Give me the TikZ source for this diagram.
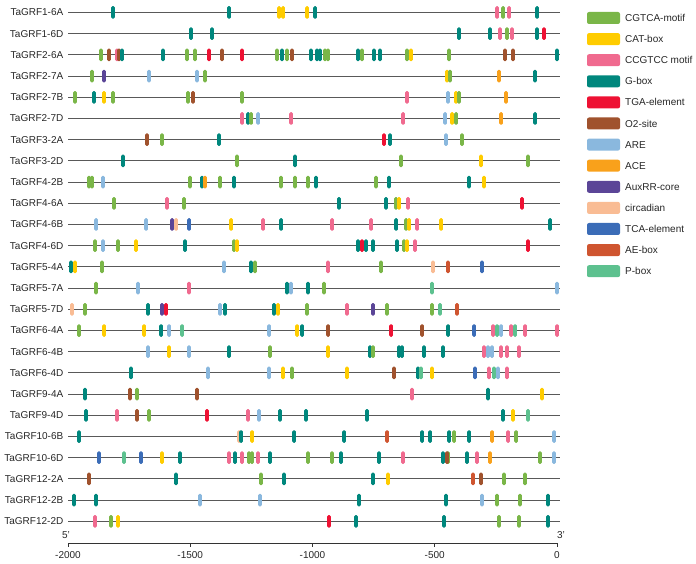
\documentclass[tikz,border=0pt]{standalone}
\usepackage{fontspec}
\setmainfont{Liberation Sans}
\definecolor{cgtca}{RGB}{122,182,72}
\definecolor{cat}{RGB}{255,204,0}
\definecolor{ccgtcc}{RGB}{240,106,143}
\definecolor{gbox}{RGB}{0,135,125}
\definecolor{tga}{RGB}{238,17,51}
\definecolor{otwo}{RGB}{160,82,45}
\definecolor{are}{RGB}{138,184,222}
\definecolor{ace}{RGB}{249,161,27}
\definecolor{auxrr}{RGB}{91,69,151}
\definecolor{circ}{RGB}{249,188,148}
\definecolor{tca}{RGB}{59,108,183}
\definecolor{aebox}{RGB}{207,85,48}
\definecolor{pbox}{RGB}{93,193,143}
\tikzset{
  elem/.style     = {rectangle, rounded corners=1.4pt, draw=none, inner sep=0pt,
                     minimum width=3.8pt, minimum height=12.5pt},
  key/.style      = {rectangle, rounded corners=2pt, draw=none, inner sep=0pt,
                     minimum width=33pt, minimum height=12pt},
  genename/.style = {anchor=east, inner sep=0pt, text=black!85,
                     font=\fontsize{10}{12}\selectfont},
  keytext/.style  = {anchor=west, inner sep=0pt, text=black!85,
                     font=\fontsize{10}{12}\selectfont},
  track/.style    = {draw=black!65, line width=1.1pt},
  axisline/.style = {draw=black!80, line width=0.9pt},
}
% one promoter: row number, gene name, list of position/element
\newcommand\generow[3]{%
  \pgfmathsetmacro\rowy{12.5+21.2*#1}
  \node[genename] (g#1) at (63.5,\rowy) {#2};
  \coordinate (s#1) at (68,\rowy);
  \coordinate (e#1) at (560,\rowy);
  \draw[track] (s#1) -- (e#1);
  \foreach \px/\pc [count=\k] in {#3} {\node[elem, fill=\pc] (m#1-\k) at (\px,\rowy) {};}
}

\begin{document}
\begin{tikzpicture}[x=1pt,y=-1pt]
  \useasboundingbox (0,0) rectangle (696,564);

  \generow{0}{TaGRF1-6A}{113/gbox, 229/gbox, 279/cat, 283/cat, 307/cat, 315/gbox, 497/ccgtcc, 503/cgtca, 509/ccgtcc, 537/gbox}
  \generow{1}{TaGRF1-6D}{191/gbox, 212/gbox, 459/gbox, 490/gbox, 500/ccgtcc, 507/cgtca, 512/ccgtcc, 537/gbox, 544/tga}
  \generow{2}{TaGRF2-6A}{101/cgtca, 109/otwo, 117/ccgtcc, 119/otwo, 122/gbox, 163/gbox, 187/cgtca, 195/cgtca, 209/tga, 222/otwo, 242/tga,
    277/cgtca, 282/gbox, 287/cgtca, 292/otwo, 311/gbox, 317/gbox, 320/gbox, 325/cgtca, 328/cgtca, 358/gbox, 362/cgtca, 374/gbox, 380/gbox,
    407/cgtca, 411/cat, 449/cgtca, 505/otwo, 513/otwo, 557/gbox}
  \generow{3}{TaGRF2-7A}{92/cgtca, 104/auxrr, 149/are, 197/are, 205/cgtca, 447/cat, 450/cgtca, 499/ace, 535/gbox}
  \generow{4}{TaGRF2-7B}{75/cgtca, 94/gbox, 104/cat, 113/cgtca, 188/cgtca, 193/otwo, 242/cgtca, 407/ccgtcc, 448/are, 456/cat, 459/cgtca, 506/ace}
  \generow{5}{TaGRF2-7D}{242/ccgtcc, 248/gbox, 251/cgtca, 258/are, 291/ccgtcc, 403/ccgtcc, 445/are, 452/cat, 456/cgtca, 501/ace, 535/gbox}
  \generow{6}{TaGRF3-2A}{147/otwo, 162/cgtca, 219/gbox, 384/tga, 390/gbox, 446/are, 462/cgtca}
  \generow{7}{TaGRF3-2D}{123/gbox, 237/cgtca, 295/gbox, 401/cgtca, 481/cat, 528/cgtca}
  \generow{8}{TaGRF4-2B}{89/cgtca, 92/cgtca, 103/are, 190/cgtca, 202/gbox, 205/ace, 220/cgtca, 234/gbox, 281/cgtca, 295/cgtca, 308/cgtca,
    316/gbox, 376/cgtca, 389/gbox, 469/gbox, 484/cat}
  \generow{9}{TaGRF4-6A}{114/cgtca, 167/ccgtcc, 184/cgtca, 339/gbox, 386/gbox, 396/cgtca, 399/cat, 408/ccgtcc, 522/tga}
  \generow{10}{TaGRF4-6B}{96/are, 146/are, 172/auxrr, 176/circ, 189/tca, 231/cat, 263/ccgtcc, 281/gbox, 332/ccgtcc, 371/ccgtcc, 396/gbox,
    406/cgtca, 409/cat, 417/ccgtcc, 441/cat, 550/gbox}
  \generow{11}{TaGRF4-6D}{95/cgtca, 103/are, 118/cgtca, 136/cat, 185/gbox, 234/cgtca, 237/cat, 358/gbox, 362/tga, 366/gbox, 373/gbox,
    397/gbox, 404/cgtca, 407/cat, 415/ccgtcc, 528/tga}
  \generow{12}{TaGRF5-4A}{71/gbox, 75/cat, 102/cgtca, 224/are, 251/gbox, 255/cgtca, 328/ccgtcc, 381/cgtca, 433/circ, 448/aebox, 482/tca}
  \generow{13}{TaGRF5-7A}{96/cgtca, 138/are, 189/ccgtcc, 287/gbox, 291/are, 308/gbox, 324/cgtca, 432/pbox, 557/are}
  \generow{14}{TaGRF5-7D}{72/circ, 85/cgtca, 148/gbox, 162/auxrr, 166/tga, 220/are, 225/gbox, 274/gbox, 278/cat, 307/cgtca, 347/ccgtcc,
    373/auxrr, 387/cgtca, 432/cgtca, 440/pbox, 457/aebox}
  \generow{15}{TaGRF6-4A}{79/cgtca, 104/cat, 144/cat, 161/gbox, 169/are, 182/pbox, 269/are, 297/cat, 302/gbox, 328/otwo, 391/tga, 422/otwo,
    448/gbox, 474/tca, 493/ccgtcc, 497/pbox, 501/are, 511/ccgtcc, 515/pbox, 525/ccgtcc, 557/ccgtcc}
  \generow{16}{TaGRF6-4B}{148/are, 169/cat, 189/are, 229/gbox, 270/cgtca, 328/cat, 370/gbox, 373/cgtca, 399/gbox, 402/gbox, 424/gbox,
    443/gbox, 484/ccgtcc, 488/are, 492/are, 501/ccgtcc, 507/ccgtcc, 519/ccgtcc}
  \generow{17}{TaGRF6-4D}{131/gbox, 208/are, 269/are, 283/cat, 292/cgtca, 347/cat, 394/otwo, 418/gbox, 421/pbox, 432/cat, 475/tca,
    489/ccgtcc, 494/pbox, 498/are, 507/ccgtcc}
  \generow{18}{TaGRF9-4A}{85/gbox, 130/otwo, 137/cgtca, 197/otwo, 412/ccgtcc, 488/gbox, 542/cat}
  \generow{19}{TaGRF9-4D}{86/gbox, 117/ccgtcc, 137/otwo, 149/cgtca, 207/tga, 248/ccgtcc, 259/are, 280/gbox, 306/gbox, 367/gbox, 503/gbox,
    513/cat, 528/pbox}
  \generow{20}{TaGRF10-6B}{79/gbox, 239/circ, 241/gbox, 252/cat, 294/gbox, 344/gbox, 387/aebox, 422/gbox, 430/gbox, 449/gbox, 454/cgtca,
    469/gbox, 492/ace, 508/ccgtcc, 516/cgtca, 554/are}
  \generow{21}{TaGRF10-6D}{99/tca, 124/pbox, 141/tca, 162/cat, 180/gbox, 229/ccgtcc, 235/gbox, 242/ccgtcc, 249/cgtca, 252/cgtca, 258/ccgtcc,
    270/gbox, 308/cgtca, 332/cgtca, 341/gbox, 379/gbox, 403/ccgtcc, 443/gbox, 448/cgtca, 447/otwo, 467/gbox, 477/ccgtcc, 490/ace,
    540/cgtca, 554/are}
  \generow{22}{TaGRF12-2A}{89/otwo, 176/gbox, 261/cgtca, 284/gbox, 373/gbox, 388/cat, 473/aebox, 481/otwo, 504/cgtca, 525/cgtca}
  \generow{23}{TaGRF12-2B}{74/gbox, 96/gbox, 200/are, 260/are, 359/gbox, 446/gbox, 482/are, 497/cgtca, 520/cgtca, 548/gbox}
  \generow{24}{TaGRF12-2D}{95/ccgtcc, 111/cgtca, 118/cat, 329/tga, 356/gbox, 444/gbox, 499/cgtca, 519/cgtca, 548/gbox}

  % position axis
  \coordinate (ax0) at (68,543);
  \coordinate (ax1) at (557,543);
  \draw[axisline] (ax0) -- (ax1);
  \foreach \v in {-2000,-1500,-1000,-500,0} {
    \draw[axisline] ({557+0.2445*\v},543) -- ({557+0.2445*\v},546.5);
    \node[keytext, anchor=center] (t\v) at ({557+0.2445*\v},555) {\v};
  }
  \node[keytext, anchor=center] (five) at (66,535) {5'};
  \node[keytext, anchor=center] (three) at (561,535) {3'};

  % legend
  \foreach \c/\t [count=\k from 0] in {cgtca/CGTCA-motif, cat/CAT-box, ccgtcc/CCGTCC motif, gbox/G-box, tga/TGA-element,
      otwo/O2-site, are/ARE, ace/ACE, auxrr/AuxRR-core, circ/circadian, tca/TCA-element, aebox/AE-box, pbox/P-box} {
    \node[key, fill=\c] (k\k) at (603.5,{18+21.1*\k}) {};
    \node[keytext] (kt\k) at (625,{18+21.1*\k}) {\t};
  }
\end{tikzpicture}
\end{document}
